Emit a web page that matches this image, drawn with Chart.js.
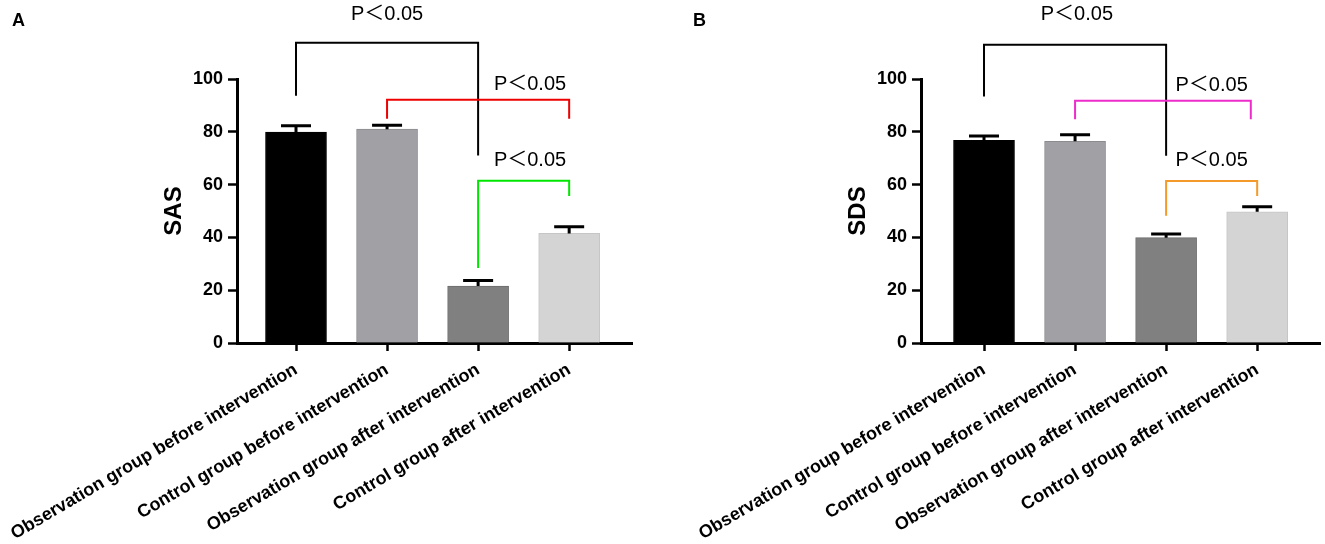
<!DOCTYPE html>
<html lang="en">
<head>
  <meta charset="UTF-8" />
  <title>SAS and SDS scores before and after intervention</title>
  <script src="https://cdn.jsdelivr.net/npm/chart.js"></script>
  <style>
    body { margin: 0; background: #fff; }
    .wrap { position: relative; width: 1325px; height: 544px; font-family: "Liberation Sans", Arial, sans-serif; }
    .panel { position: absolute; top: 0; height: 544px; }
    .tag { position: absolute; top: 11px; font-size: 18px; font-weight: bold; line-height: 1; }
  </style>
</head>
<body>
  <div class="wrap">
    <div class="panel" style="left:0;width:660px"><canvas id="sasChart"></canvas></div>
    <div class="panel" style="left:684px;width:641px"><canvas id="sdsChart"></canvas></div>
    <div class="tag" style="left:12px">A</div>
    <div class="tag" style="left:693px">B</div>
  </div>

  <script>
    const groups = [
      'Observation group before intervention',
      'Control group before intervention',
      'Observation group after intervention',
      'Control group after intervention'
    ];
    const yTicks = [0, 20, 40, 60, 80, 100];
    const pLabel = 'P\uFF1C0.05';

    // mean and upper error (SD)
    const sasMeans = [79.9, 81.0, 21.6, 41.5];
    const sasErrors = [2.4, 1.5, 2.1, 2.5];
    const sdsMeans = [76.8, 76.4, 39.9, 49.7];
    const sdsErrors = [1.6, 2.5, 1.4, 1.9];

    // brackets: [from group, to group, top, left leg end, right leg end]
    const sasBrackets = [[0, 2, 113.7, 93.7, 71], [1, 3, 92.1, 84.9, 84.9], [2, 3, 61.5, 28.4, 55.7]];
    const sdsBrackets = [[0, 2, 113.0, 93.4, 70.9], [1, 2.93, 91.8, 84.8, 84.8], [2, 3, 61.4, 48.2, 55.7]];
    const sasLabelX = [1, 2.57, 2.57];
    const sasLabelY = [124.3, 98.1, 69.3];
    const sdsLabelX = [1.02, 2.5, 2.5];
    const sdsLabelY = [124.3, 97.7, 69.3];

    const barColors = ['#000000', '#a0a0a5', '#808080', '#d4d4d4'];
    const barEdges = ['#000000', '#8c8c90', '#6c6c6c', '#c6c6c6'];

    Chart.defaults.font.family = '"Liberation Sans", Arial, sans-serif';

    const annotate = {
      id: 'annotate',
      afterDatasetsDraw(chart, args, opts) {
        const { ctx, scales: { x, y } } = chart;
        ctx.save();
        ctx.lineCap = 'butt';

        // error bars, upper side only
        ctx.strokeStyle = '#000';
        ctx.lineWidth = 3;
        opts.means.forEach((m, i) => {
          const px = x.getPixelForValue(i);
          const y0 = y.getPixelForValue(m);
          const y1 = y.getPixelForValue(m + opts.errors[i]);
          ctx.beginPath();
          ctx.moveTo(px, y0);
          ctx.lineTo(px, y1);
          ctx.moveTo(px - 15, y1);
          ctx.lineTo(px + 15, y1);
          ctx.stroke();
        });

        // significance brackets
        ctx.lineWidth = 2;
        opts.brackets.forEach((b, k) => {
          const [from, to, top, l, r] = b;
          ctx.strokeStyle = opts.colors[k];
          ctx.beginPath();
          ctx.moveTo(x.getPixelForValue(from), y.getPixelForValue(l));
          ctx.lineTo(x.getPixelForValue(from), y.getPixelForValue(top));
          ctx.lineTo(x.getPixelForValue(to), y.getPixelForValue(top));
          ctx.lineTo(x.getPixelForValue(to), y.getPixelForValue(r));
          ctx.stroke();
        });

        ctx.fillStyle = '#000';
        ctx.font = '20px "Liberation Sans", Arial, "Noto Sans CJK SC", sans-serif';
        ctx.textAlign = 'center';
        ctx.textBaseline = 'middle';
        opts.labelX.forEach((lx, k) => {
          ctx.fillText(pLabel, x.getPixelForValue(lx), y.getPixelForValue(opts.labelY[k]));
        });
        ctx.restore();
      }
    };

    function makeChart(id, title, means, errors, brackets, colors, labelX, labelY, xMin, padRight) {
      return new Chart(document.getElementById(id), {
        type: 'bar',
        data: {
          datasets: [{
            data: means.map((v, i) => ({ x: i, y: v })),
            backgroundColor: barColors,
            borderColor: barEdges,
            borderWidth: 1,
            barThickness: 61
          }]
        },
        options: {
          responsive: true,
          maintainAspectRatio: false,
          animation: false,
          layout: { padding: { top: 79, right: padRight, left: 0, bottom: 0 } },
          plugins: {
            legend: { display: false },
            tooltip: { enabled: false },
            annotate: { means, errors, brackets, colors, labelX, labelY }
          },
          scales: {
            x: {
              type: 'linear',
              min: xMin,
              max: 3.69,
              offset: false,
              z: 1,
              afterBuildTicks: s => { s.ticks = groups.map((g, i) => ({ value: i })); },
              afterFit: s => { s.height = 201; s.paddingLeft = 0; s.paddingRight = 0; },
              ticks: {
                callback: v => groups[v],
                minRotation: 30.5,
                maxRotation: 30.5,
                autoSkip: false,
                padding: 8,
                color: '#000',
                font: { size: 18, weight: 'bold' }
              },
              grid: { offset: false, drawOnChartArea: false, tickLength: 8, tickWidth: 2.5, tickColor: '#000' },
              border: { color: '#000', width: 3 }
            },
            y: {
              min: 0,
              max: 100,
              afterBuildTicks: s => { s.ticks = yTicks.map(v => ({ value: v })); },
              afterFit: s => { s.width = 237; s.paddingTop = 0; s.paddingBottom = 0; },
              title: {
                display: true,
                text: title,
                color: '#000',
                font: { size: 24, weight: 'bold' },
                padding: { top: 160, bottom: 0 }
              },
              ticks: { padding: 5, color: '#000', font: { size: 18, weight: 'bold' } },
              grid: { drawOnChartArea: false, tickLength: 9, tickWidth: 2.5, tickColor: '#000' },
              border: { color: '#000', width: 3 }
            }
          }
        },
        plugins: [annotate]
      });
    }

    makeChart('sasChart', 'SAS', sasMeans, sasErrors, sasBrackets,
      ['#000000', '#ee0000', '#00e600'], sasLabelX, sasLabelY, -0.648, 28);
    makeChart('sdsChart', 'SDS', sdsMeans, sdsErrors, sdsBrackets,
      ['#000000', '#ee2ccc', '#f39a2a'], sdsLabelX, sdsLabelY, -0.692, 5);
  </script>
</body>
</html>
